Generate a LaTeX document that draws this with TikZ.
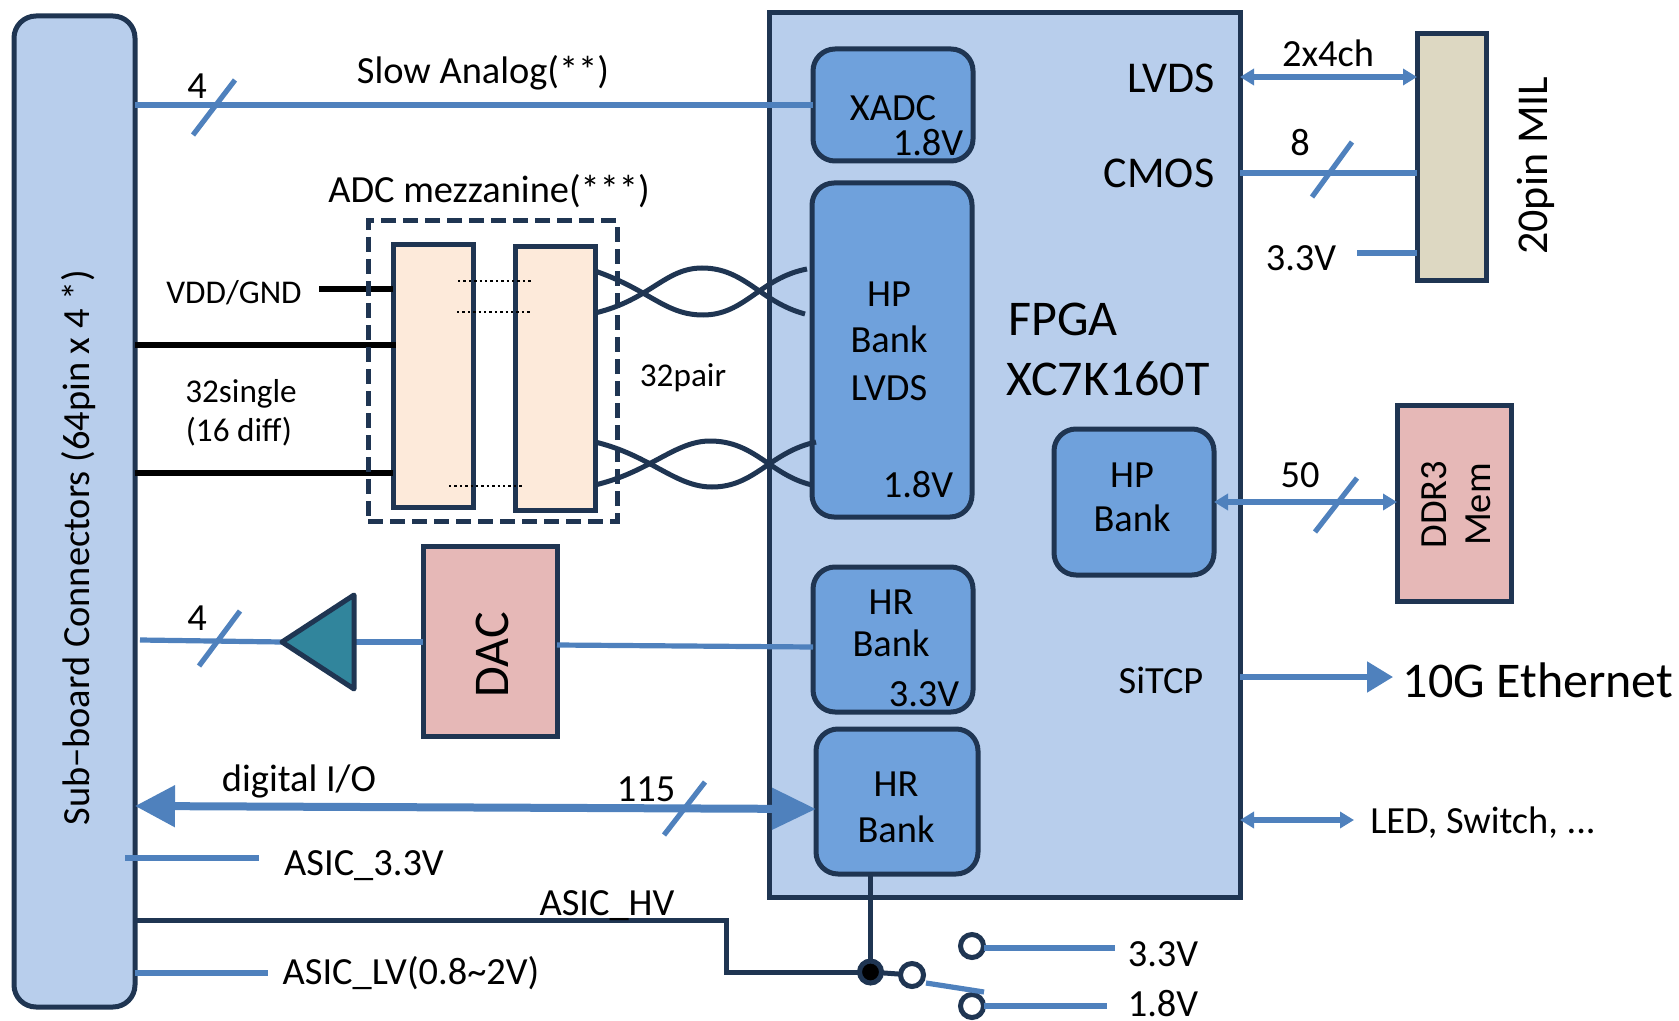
\documentclass[tikz,border=0pt]{standalone}
\usepackage{fontspec}
\setmainfont{Carlito}
\usetikzlibrary{arrows.meta}
\definecolor{fpgablue}{HTML}{B8CEEC}
\definecolor{bankblue}{HTML}{6FA1DC}
\definecolor{darkline}{HTML}{1F3552}
\definecolor{wireblue}{HTML}{4F81BD}
\definecolor{miltan}{HTML}{DDD8C2}
\definecolor{dacpink}{HTML}{E6B8B7}
\definecolor{adcpeach}{HTML}{FDEADA}
\definecolor{ampteal}{HTML}{31859C}
\tikzset{
  block/.style={draw=darkline, line width=2.5pt, outer sep=0pt, inner sep=0pt},
  bank/.style={block, fill=bankblue, rounded corners=11pt, minimum width=80pt},
  wire/.style={draw=wireblue, line width=2.6pt},
  darkwire/.style={draw=darkline, line width=2.5pt},
  blackwire/.style={draw=black, line width=2.6pt},
  sep/.style={draw=black, line width=1.4pt, dash pattern=on 1.2pt off 1.5pt},
  twoway/.style={wire, {Triangle[length=7pt,width=8pt]}-{Triangle[length=7pt,width=8pt]}},
  txt/.style={inner sep=0pt, outer sep=0pt, yshift=-0.8pt, font=\fontsize{19.2}{22}\selectfont},
  smalltxt/.style={txt, font=\fontsize{16.6}{19}\selectfont},
  bigtxt/.style={txt, font=\fontsize{22}{25}\selectfont},
  hugetxt/.style={txt, font=\fontsize{25}{28}\selectfont},
  contact/.style={circle, draw=darkline, line width=2.5pt, fill=white, minimum size=11.5pt, inner sep=0pt, outer sep=0pt}
}
\begin{document}
\begin{tikzpicture}[x=0.5pt, y=-0.5pt]
  \useasboundingbox (0,0) rectangle (1679,1021);
  % main blocks
  \node[block, fill=fpgablue, rounded corners=11pt, minimum width=60.5pt, minimum height=495.5pt] (sub) at (74.5,511.5) {};
  \node[block, fill=fpgablue, minimum width=235.5pt, minimum height=442pt] (fpga) at (1004.5,455) {};
  \node[block, fill=miltan, minimum width=34.5pt, minimum height=123.5pt] (mil) at (1451.5,157.5) {};
  \node[block, fill=dacpink, minimum width=57pt, minimum height=98pt] (ddr) at (1454,503) {};
  \node[block, fill=dacpink, minimum width=67pt, minimum height=95pt] (dac) at (490,641) {};
  % banks
  \node[bank, minimum height=56pt] (xadc) at (893,105) {};
  \node[bank, minimum height=167pt] (hplvds) at (892,350) {};
  \node[bank, minimum height=73pt] (hpbank) at (1134,502) {};
  \node[bank, minimum height=72.5pt] (hra) at (893,639.5) {};
  \node[bank, minimum width=81pt, minimum height=72.5pt] (hrb) at (897,801.5) {};
  % ADC mezzanine
  \node[block, fill=adcpeach, minimum width=40pt, minimum height=131pt] (adca) at (433,376) {};
  \node[block, fill=adcpeach, minimum width=40pt, minimum height=131.5pt] (adcb) at (555,378.5) {};
  \coordinate (vdd) at (319,289);
  \draw[blackwire] (vdd) -- (adca.west |- vdd);
  \draw[blackwire] (sub.east |- 0,345) -- ([xshift=1.5pt]adca.west |- 0,345);
  \draw[blackwire] (sub.east |- 0,473) -- (adca.west |- 0,473);
  \node[draw=darkline, line width=2.5pt, dash pattern=on 7.5pt off 3.5pt, minimum width=124.5pt, minimum height=150pt, inner sep=0pt, outer sep=0pt] (mezz) at (492.5,371) {};
  \draw[sep] (458,281)--(531,281);
  \draw[sep] (457,312)--(530,312);
  \draw[sep] (449,486)--(522,486);
  % twisted pairs
  \draw[darkwire] (adcb.east |- 0,271) .. controls (650,290) and (665,315) .. (703,315) .. controls (745,315) and (760,278) .. (807,269);
  \draw[darkwire] (adcb.east |- 0,313) .. controls (650,300) and (665,268) .. (702,268) .. controls (745,268) and (760,302) .. (805,314);
  \draw[darkwire] (adcb.east |- 0,442) .. controls (650,455) and (675,487) .. (712,487) .. controls (755,487) and (770,452) .. ([xshift=2pt]hplvds.west |- 0,442);
  \draw[darkwire] (adcb.east |- 0,485) .. controls (650,472) and (675,441) .. (710,441) .. controls (755,441) and (770,475) .. (hplvds.west |- 0,485);
  % left side wires
  \draw[wire] (sub.east |- xadc.west) -- (xadc.west);
  \coordinate (sa1) at (193,135); \coordinate (sa2) at (235,80);
  \draw[wire] (sa1) -- (sa2);
  % amplifier and DAC
  \coordinate (amptip) at (282,642); \coordinate (amptop) at (354,595); \coordinate (ampbot) at (354,689);
  \coordinate (dacout) at (140,640);
  \draw[wire] (dacout) -- (amptip);
  \draw[wire] (354,642) -- (dac.west |- 0,642);
  \draw[wire] (dac.east |- 0,645) -- (hra.west |- 0,647);
  \draw[darkwire, fill=ampteal, line join=round] (amptip) -- (amptop) -- (ampbot) -- cycle;
  \coordinate (sb1) at (199,666); \coordinate (sb2) at (240,611);
  \draw[wire] (sb1) -- (sb2);
  % digital I/O
  \draw[wire, line width=4pt, {Triangle[length=20pt,width=20pt]}-{Triangle[length=22pt,width=20pt]}] (sub.east |- 0,806) -- (hrb.west |- 0,809);
  \coordinate (sc1) at (664,835); \coordinate (sc2) at (705,782);
  \draw[wire] (sc1) -- (sc2);
  \coordinate (av33) at (125,858); \coordinate (av33e) at (259,858);
  \draw[wire] (av33) -- (av33e);
  \coordinate (avlv) at (268,973);
  \draw[wire] (sub.east |- avlv) -- (avlv);
  % HV switch
  \node[circle, draw=darkline, line width=2.5pt, fill=black, minimum size=11pt, inner sep=0pt, outer sep=0pt] (jct) at (870.5,972) {};
  \node[contact] (swa) at (912,975) {};
  \node[contact] (sw33) at (972,946) {};
  \node[contact] (sw18) at (972,1006) {};
  \draw[darkwire] (sub.east |- 0,920) -- (726,920) -- (726,972) -- (jct);
  \draw[darkwire] (jct) -- (hrb.south -| jct);
  \draw[darkwire] (jct) -- (swa);
  \coordinate (swtip) at (984,992);
  \draw[wire] (swa) ++(14,8) -- (swtip);
  \coordinate (v33) at (1115,948); \coordinate (v18) at (1107,1006);
  \draw[wire] (sw33.east |- v33) -- (v33);
  \draw[wire] (sw18.east |- v18) -- (v18);
  % right side wires
  \draw[twoway] (fpga.east |- 0,77) -- (mil.west |- 0,77);
  \draw[wire] (fpga.east |- 0,173) -- (mil.west |- 0,173);
  \coordinate (sd1) at (1312,197); \coordinate (sd2) at (1352,142);
  \draw[wire] (sd1) -- (sd2);
  \coordinate (v33r) at (1357,253);
  \draw[wire] (v33r) -- (mil.west |- v33r);
  \draw[twoway] (hpbank.east) -- (ddr.west |- hpbank.east);
  \coordinate (se1) at (1315,532); \coordinate (se2) at (1357,478);
  \draw[wire] (se1) -- (se2);
  \coordinate (ethend) at (1393,677);
  \draw[wire, -{Triangle[length=13pt,width=15pt]}] (fpga.east |- ethend) -- (ethend);
  \coordinate (ledend) at (1354,820);
  \draw[twoway] (fpga.east |- ledend) -- (ledend);
  % labels
  \node[txt, rotate=90] (subtxt) at (79,546) {Sub−board Connectors (64pin x 4 *)};
  \node[txt] (t4a) at (197,85) {4};
  \node[txt] (tslow) at (483,71) {Slow Analog(**)};
  \node[txt] (tadc) at (489,190) {ADC mezzanine(***)};
  \node[smalltxt] (tvdd) at (234,291) {VDD/GND};
  \node[smalltxt] (t32s) at (241,392) {32single};
  \node[smalltxt] (t16d) at (239,430) {(16 diff)};
  \node[smalltxt] (t32p) at (683,376) {32pair};
  \node[txt] (t4b) at (197,617) {4};
  \node[hugetxt, rotate=90] (tdac) at (492,653) {DAC};
  \node[txt] (tdig) at (299,780) {digital I/O};
  \node[txt] (t115) at (646,788) {115};
  \node[txt] (tasic33) at (364,864) {ASIC\_3.3V};
  \node[txt] (tasichv) at (607,904) {ASIC\_HV};
  \node[txt] (tasiclv) at (411,972) {ASIC\_LV(0.8\textasciitilde 2V)};
  \node[txt] (t33) at (1163,953) {3.3V};
  \node[txt] (t18) at (1163,1002) {1.8V};
  \node[txt] (txadc) at (893,107) {XADC};
  \node[txt] (txadcv) at (928,141) {1.8V};
  \node[txt] (thp) at (889,293) {HP};
  \node[txt] (thpb) at (889,338) {Bank};
  \node[txt] (thpl) at (889,387) {LVDS};
  \node[txt] (thpv) at (918,483) {1.8V};
  \node[txt] (thp2) at (1132,474) {HP};
  \node[txt] (thpb2) at (1132,517) {Bank};
  \node[txt] (thr) at (891,601) {HR};
  \node[txt] (thrb) at (891,642) {Bank};
  \node[txt] (thrv) at (924,693) {3.3V};
  \node[txt] (thr2) at (896,783) {HR};
  \node[txt] (thrb2) at (896,828) {Bank};
  \node[bigtxt] (tlvds) at (1171,77) {LVDS};
  \node[bigtxt] (tcmos) at (1159,172) {CMOS};
  \node[hugetxt] (tfpga) at (1063,318) {FPGA};
  \node[hugetxt] (txc) at (1108,377) {XC7K160T};
  \node[txt] (tsitcp) at (1161,679) {SiTCP};
  \node[txt] (t2x4) at (1328,52) {2x4ch};
  \node[txt] (t8) at (1300,141) {8};
  \node[txt] (t33r) at (1301,257) {3.3V};
  \node[bigtxt, rotate=90] (tmil) at (1536,164) {20pin MIL};
  \node[txt] (t50) at (1300,474) {50};
  \node[txt, rotate=90, align=center] (tddr) at (1456,503) {DDR3\\Mem};
  \node[hugetxt] (teth) at (1538,679) {10G Ethernet};
  \node[txt] (tled) at (1483,821) {LED, Switch, ...};
\end{tikzpicture}
\end{document}
